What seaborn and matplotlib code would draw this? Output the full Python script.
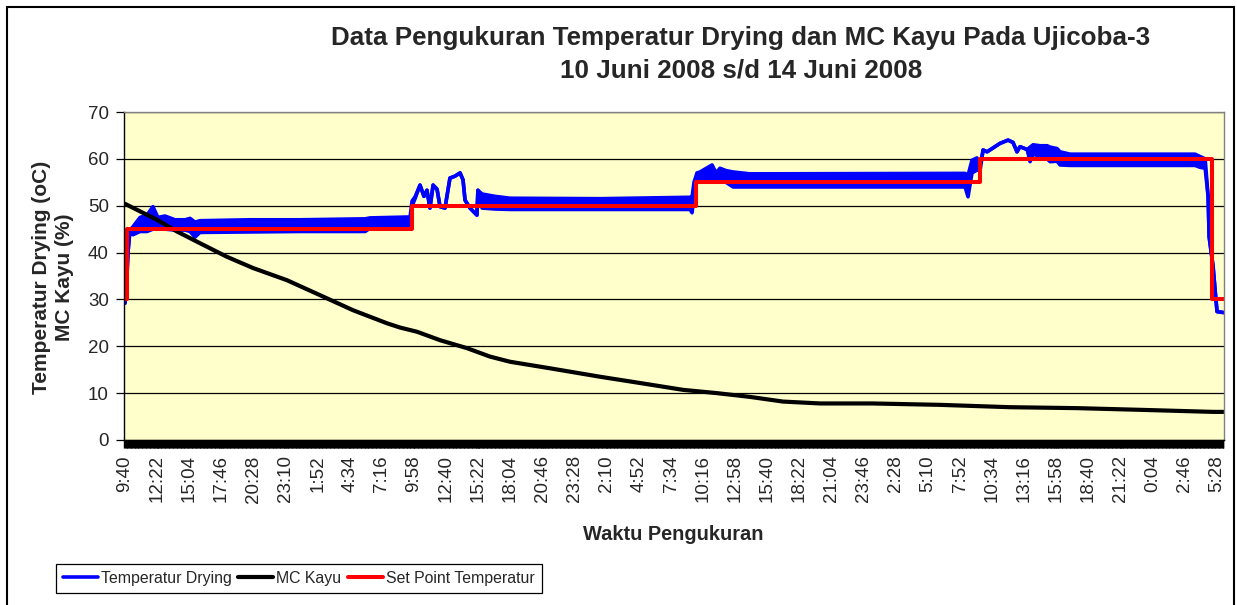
import numpy as np
import pandas as pd
import seaborn as sns
import matplotlib.pyplot as plt
from matplotlib.ticker import MultipleLocator, FixedLocator
from matplotlib.patches import Rectangle

# x values are minutes since 9:40 on 10 Juni 2008
tick_labels = ["9:40", "12:22", "15:04", "17:46", "20:28", "23:10", "1:52", "4:34",
               "7:16", "9:58", "12:40", "15:22", "18:04", "20:46", "23:28", "2:10",
               "4:52", "7:34", "10:16", "12:58", "15:40", "18:22", "21:04", "23:46",
               "2:28", "5:10", "7:52", "10:34", "13:16", "15:58", "18:40", "21:22",
               "0:04", "2:46", "5:28"]
tick_step = 162

# Temperatur Drying: lower / upper edge of the fluctuating band
blue_t = [0, 10, 15, 25, 40, 76, 111, 141, 166, 202,
          252, 303, 328, 353, 378, 630, 883, 1211, 1236, 1438,
          1448, 1463, 1488, 1508, 1523, 1538, 1554, 1574, 1589, 1614,
          1639, 1664, 1690, 1705, 1715, 1740, 1775, 1780, 1801, 1866,
          1942, 2396, 2850, 2860, 2870, 2885, 2900, 2961, 2981, 3001,
          3031, 3067, 3152, 4237, 4252, 4272, 4297, 4313, 4328, 4348,
          4413, 4454, 4479, 4499, 4514, 4550, 4565, 4580, 4615, 4651,
          4666, 4701, 4716, 4767, 5397, 5422, 5448, 5463, 5468, 5488,
          5498, 5508, 5540]
blue_lo = [29.2, 35.0, 40.0, 44.8, 43.8, 44.5, 44.5, 45.0, 45.0, 45.0,
           44.8, 44.8, 44.5, 43.3, 44.3, 44.4, 44.5, 44.5, 45.2, 45.2,
           50.0, 51.5, 54.4, 52.0, 53.3, 49.5, 54.4, 53.5, 49.8, 49.5,
           55.9, 56.3, 57.0, 55.5, 51.2, 49.5, 48.0, 53.3, 49.5, 49.3,
           49.2, 49.2, 49.2, 48.5, 52.0, 55.5, 55.0, 55.5, 55.0, 55.5,
           55.0, 54.0, 54.0, 54.0, 51.9, 57.0, 57.6, 57.6, 61.9, 61.5,
           63.3, 64.0, 63.5, 61.5, 62.6, 62.0, 59.4, 61.0, 60.5, 60.0,
           59.4, 59.5, 58.7, 58.6, 58.6, 58.2, 58.0, 51.9, 43.4, 37.0,
           32.0, 27.4, 27.2]
blue_hi = [29.2, 35.0, 40.0, 44.8, 45.5, 47.5, 48.0, 49.8, 47.5, 47.8,
           47.0, 47.0, 47.3, 46.5, 46.8, 47.0, 47.0, 47.2, 47.4, 47.6,
           51.0, 51.9, 54.4, 52.0, 53.3, 49.5, 54.4, 53.5, 49.8, 49.5,
           55.9, 56.3, 57.0, 55.5, 51.2, 49.5, 48.0, 53.3, 52.5, 52.0,
           51.6, 51.5, 51.8, 51.8, 55.0, 57.0, 57.2, 58.7, 57.0, 58.0,
           57.5, 57.2, 56.8, 56.9, 56.5, 59.7, 60.2, 58.5, 61.9, 61.5,
           63.3, 64.0, 63.5, 61.5, 62.6, 62.0, 62.5, 63.0, 62.8, 62.8,
           62.5, 62.2, 61.5, 61.0, 61.0, 60.5, 60.0, 51.9, 43.4, 37.0,
           32.0, 27.4, 27.2]

# MC Kayu (%)
mc_t = [0, 161, 262, 378, 514, 646, 817, 984, 1150, 1322,
        1387, 1473, 1589, 1725, 1841, 1942, 2144, 2396, 2562, 2815,
        2986, 3152, 3319, 3506, 3768, 4111, 4464, 4802, 5155, 5488, 5540]
mc_v = [50.4, 47.0, 44.5, 42.0, 39.1, 36.7, 34.1, 30.9, 27.7, 24.9,
        24.0, 23.1, 21.3, 19.6, 17.8, 16.7, 15.3, 13.5, 12.4, 10.7,
        10.0, 9.2, 8.2, 7.8, 7.8, 7.5, 7.0, 6.8, 6.4, 6.0, 6.0]

# Set Point Temperatur (step changes)
sp_t = [0, 8, 1448, 2880, 4313, 5483, 5545]
sp_v = [30, 45, 50, 55, 60, 30, 30]

blue = pd.DataFrame({"t": blue_t, "lo": blue_lo, "hi": blue_hi})
mc = pd.DataFrame({"t": mc_t, "v": mc_v})
sp = pd.DataFrame({"t": sp_t, "v": sp_v})

sns.set_theme(style="white")
plt.rcParams["font.family"] = ["Liberation Sans", "DejaVu Sans"]

fig = plt.figure(figsize=(12.37, 6.05), dpi=100)
ax = fig.add_axes([124 / 1237, 1 - 440 / 605, 1100 / 1237, 328 / 605])
ax.set_facecolor("#FFFFCC")

sns.lineplot(data=blue, x="t", y="hi", color="#0000FF", lw=2.6, ax=ax,
             label="Temperatur Drying", estimator=None, sort=False)
sns.lineplot(data=blue, x="t", y="lo", color="#0000FF", lw=2.6, ax=ax,
             estimator=None, sort=False)
ax.fill_between(blue["t"], blue["lo"], blue["hi"], color="#0000FF", lw=0)
sns.lineplot(data=mc, x="t", y="v", color="black", lw=3.0, ax=ax,
             label="MC Kayu", estimator=None, sort=False)
sns.lineplot(data=sp, x="t", y="v", color="#FF0000", lw=2.9, ax=ax,
             label="Set Point Temperatur", estimator=None, sort=False,
             drawstyle="steps-post")
handles, labels = ax.get_legend_handles_labels()
if ax.get_legend() is not None:
    ax.get_legend().remove()

ax.set_xlim(-5, 5543)
ax.set_ylim(0, 70)
ax.set_xlabel("")
ax.set_ylabel("")

ax.yaxis.set_major_locator(MultipleLocator(10))
ax.yaxis.grid(True, color="black", lw=0.9)
ax.set_axisbelow(True)
ax.tick_params(axis="y", left=True, length=6, width=0.9, color="black",
               labelsize=13.5, pad=5)

ax.xaxis.set_major_locator(FixedLocator(np.arange(len(tick_labels)) * tick_step))
ax.set_xticklabels(tick_labels, rotation=90)
ax.xaxis.set_minor_locator(MultipleLocator(4))
ax.tick_params(axis="x", which="major", bottom=True, length=6, width=1.0,
               color="black", labelsize=13.5, pad=5)
ax.tick_params(axis="x", which="minor", bottom=True, length=6, width=1.0,
               color="black")

for side in ["top", "right"]:
    ax.spines[side].set_color("#808080")
    ax.spines[side].set_linewidth(1.0)
for side in ["left", "bottom"]:
    ax.spines[side].set_color("black")
    ax.spines[side].set_linewidth(1.0)

fig.text(741 / 1237, 1 - 38 / 605, "Data Pengukuran Temperatur Drying dan MC Kayu Pada Ujicoba-3",
         ha="center", va="center", fontsize=18.7, fontweight="bold")
fig.text(741 / 1237, 1 - 71 / 605, "10 Juni 2008 s/d 14 Juni 2008",
         ha="center", va="center", fontsize=18.7, fontweight="bold")
fig.text(53 / 1237, 1 - 277 / 605, "Temperatur Drying (oC)\nMC Kayu (%)",
         ha="center", va="center", rotation=90, fontsize=15, fontweight="bold",
         multialignment="center", linespacing=1.25)
fig.text(673 / 1237, 1 - 534 / 605, "Waktu Pengukuran",
         ha="center", va="center", fontsize=14.4, fontweight="bold")

leg = fig.legend(handles, labels, ncol=3, loc="lower left",
                 bbox_to_anchor=(56 / 1237, 1 - 593 / 605), fontsize=11.4,
                 frameon=True, fancybox=False, framealpha=1, edgecolor="black",
                 handlelength=2.2, handletextpad=0.2, columnspacing=0.4,
                 borderpad=0.45, borderaxespad=0)
leg.get_frame().set_linewidth(0.9)

fig.patches.append(Rectangle((7 / 1237, -0.02), 1227 / 1237, 1.02 - 7 / 605,
                             transform=fig.transFigure, fill=False,
                             edgecolor="black", lw=1.5))

fig.savefig("out.png", dpi=100)
